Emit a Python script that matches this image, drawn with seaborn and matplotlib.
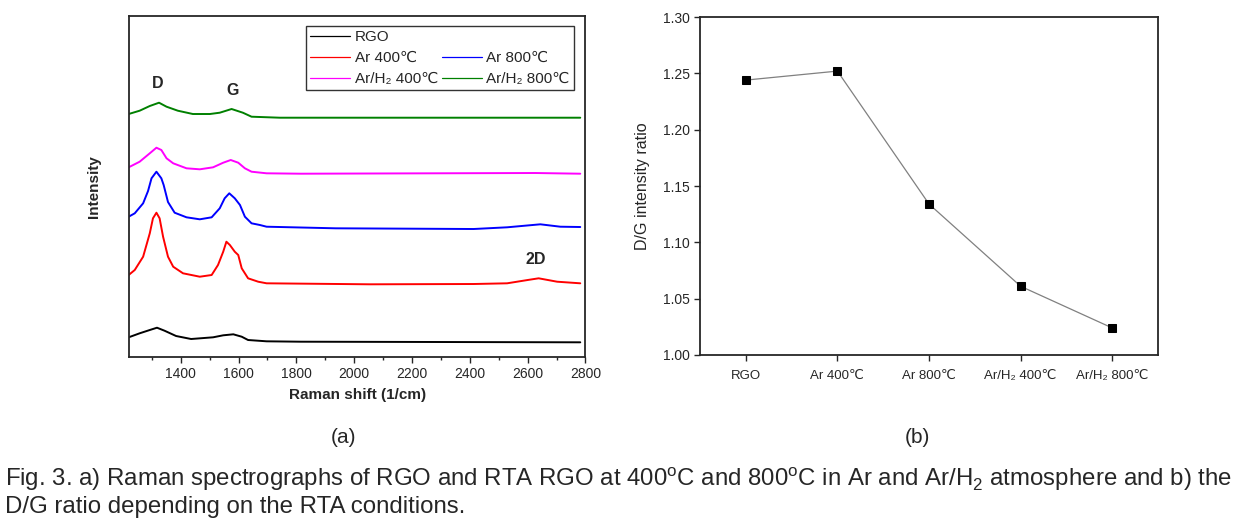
import numpy as np
import pandas as pd
import seaborn as sns
import matplotlib.pyplot as plt
from matplotlib.lines import Line2D
from matplotlib.ticker import MultipleLocator

# spectra: wavenumber (1/cm) and intensity (a.u., offset stacked)
rgo_x = [1220, 1258, 1293, 1318, 1344, 1384, 1436, 1512, 1547, 1582, 1611, 1633, 1697,
         1816, 2782]
rgo_y = [19.7, 23.7, 27.0, 29.3, 26.3, 21.0, 18.0, 19.7, 21.7, 22.7, 20.3, 17.0, 15.7,
         15.3, 14.7]

ar400_x = [1220, 1241, 1270, 1293, 1304, 1316, 1327, 1339, 1356, 1374, 1408, 1466, 1507,
           1529, 1547, 1558, 1570, 1587, 1599, 1611, 1633, 1668, 1697, 2055, 2413, 2529,
           2600, 2638, 2702, 2782]
ar400_y = [82.0, 87.0, 100.3, 123.7, 138.7, 144.3, 138.7, 120.3, 100.3, 90.3, 83.7, 80.3, 82.0,
           92.0, 105.3, 115.3, 112.0, 105.3, 102.0, 88.7, 78.7, 75.3, 73.7, 72.7, 73.0, 73.7,
           77.0, 78.7, 75.3, 73.7]

ar800_x = [1220, 1241, 1270, 1287, 1299, 1316, 1333, 1341, 1356, 1379, 1420, 1466, 1507,
           1535, 1552, 1568, 1587, 1605, 1622, 1645, 1674, 1697, 1936, 2413, 2529, 2644,
           2713, 2782]
ar800_y = [140.3, 143.7, 153.7, 166.0, 178.7, 185.3, 178.7, 172.0, 155.0, 144.3, 139.7, 137.7, 139.7,
           148.7, 158.7, 163.7, 158.7, 152.0, 140.3, 133.7, 132.0, 130.3, 128.7, 128.0, 129.7, 132.7,
           130.3, 130.0]

arh400_x = [1220, 1258, 1293, 1316, 1333, 1351, 1374, 1420, 1466, 1512, 1547, 1573, 1599,
            1622, 1645, 1697, 1816, 2627, 2782]
arh400_y = [189.7, 195.3, 203.7, 209.3, 207.0, 198.7, 193.7, 188.7, 187.7, 189.7, 194.3, 197.0, 194.3,
            188.7, 185.3, 183.7, 183.3, 184.0, 183.3]

arh800_x = [1220, 1258, 1293, 1325, 1351, 1390, 1442, 1501, 1535, 1576, 1615, 1645, 1743,
            2782]
arh800_y = [243.0, 246.3, 251.0, 254.3, 250.3, 246.3, 243.0, 243.0, 244.3, 248.0, 244.3, 240.3, 239.3,
            239.3]

# panel (b)
conditions = ["RGO", "Ar 400℃", "Ar 800℃", "Ar/H₂ 400℃", "Ar/H₂ 800℃"]
dg_ratio = [1.244, 1.252, 1.134, 1.061, 1.024]

names = ["RGO", "Ar 400℃", "Ar 800℃", "Ar/H₂ 400℃", "Ar/H₂ 800℃"]
colors = ["black", "#ff0000", "#0000ff", "#ff00ff", "#008000"]

frames = []
for name, xs, ys in zip(names, [rgo_x, ar400_x, ar800_x, arh400_x, arh800_x],
                        [rgo_y, ar400_y, ar800_y, arh400_y, arh800_y]):
    frames.append(pd.DataFrame({"shift": xs, "intensity": ys, "sample": name}))
spectra = pd.concat(frames, ignore_index=True)

sns.set_style("ticks")
plt.rcParams["font.family"] = ["Liberation Sans", "DejaVu Sans"]
plt.rcParams["mathtext.fontset"] = "custom"
plt.rcParams["mathtext.rm"] = "Liberation Sans"

fig = plt.figure(figsize=(12.42, 5.30), dpi=100)
ax1 = fig.add_axes([0.1036, 0.3264, 0.3678, 0.6434])
ax2 = fig.add_axes([0.5636, 0.3302, 0.3688, 0.6377])

# (a) Raman spectra
sns.lineplot(data=spectra, x="shift", y="intensity", hue="sample",
             palette=dict(zip(names, colors)), hue_order=names,
             linewidth=1.4, legend=False, ax=ax1, estimator=None, sort=False)
ax1.set_xlim(1220, 2800)
ax1.set_ylim(0, 341)
ax1.set_yticks([])
ax1.set_xticks([1400, 1600, 1800, 2000, 2200, 2400, 2600, 2800])
ax1.xaxis.set_minor_locator(MultipleLocator(100))
ax1.tick_params(axis="x", which="major", direction="out", length=4, width=1,
                labelsize=10, pad=3)
ax1.tick_params(axis="x", which="minor", direction="out", length=2.5, width=1)
for s in ax1.spines.values():
    s.set_linewidth(1.3)
    s.set_visible(True)
ax1.set_xlabel("Raman shift (1/cm)", fontsize=11, fontweight="bold", labelpad=5)
ax1.set_ylabel("Intensity", fontsize=11, fontweight="bold", labelpad=20)
ax1.text(1321, 274, "D", fontsize=11.5, fontweight="bold", ha="center", va="center")
ax1.text(1578, 267, "G", fontsize=11.5, fontweight="bold", ha="center", va="center")
ax1.text(2627, 98, "2D", fontsize=11.5, fontweight="bold", ha="center", va="center")

handles = [Line2D([], [], color=c, lw=0.9) for c in colors]
blank = Line2D([], [], color="none")
order = [handles[0], handles[1], handles[3], blank, handles[2], handles[4]]
labels = [names[0], names[1], names[3], "", names[2], names[4]]
leg = ax1.legend(order, labels, ncol=2, loc="upper right",
                 bbox_to_anchor=(0.975, 0.972), fontsize=11, frameon=True,
                 fancybox=False, edgecolor="black", handlelength=2.6,
                 handletextpad=0.3, columnspacing=0.25, labelspacing=0.45,
                 borderpad=0.3, borderaxespad=0)
leg.get_frame().set_linewidth(1.0)

# (b) D/G ratio
ratio = pd.DataFrame({"condition": conditions, "ratio": dg_ratio})
sns.lineplot(data=ratio, x="condition", y="ratio", color="#808080", linewidth=0.9,
             marker="s", markersize=6, markerfacecolor="black",
             markeredgecolor="black", sort=False, ax=ax2)
ax2.set_xlim(-0.5, 4.5)
ax2.set_ylim(1.00, 1.30)
yt = np.arange(1.00, 1.301, 0.05)
ax2.set_yticks(yt)
ax2.set_yticklabels([f"{v:.2f}" for v in yt])
ax2.tick_params(axis="both", direction="out", length=4, width=1, labelsize=10)
ax2.tick_params(axis="x", labelsize=9.5, pad=7)
for s in ax2.spines.values():
    s.set_linewidth(1.3)
    s.set_visible(True)
ax2.set_xlabel("")
ax2.set_ylabel("D/G intensity ratio", fontsize=11.5, labelpad=9)

fig.text(0.2763, 0.175, "(a)", fontsize=15, ha="center", va="center")
fig.text(0.7385, 0.175, "(b)", fontsize=15, ha="center", va="center")
fig.text(0.004, 0.083,
         "Fig. 3. a) Raman spectrographs of RGO and RTA RGO at 400$^{\\mathrm{o}}$C and "
         "800$^{\\mathrm{o}}$C in Ar and Ar/H$_2$ atmosphere and b) the",
         fontsize=17.3, ha="left", va="baseline")
fig.text(0.004, 0.032, "D/G ratio depending on the RTA conditions.",
         fontsize=17.3, ha="left", va="baseline")

fig.savefig("out.png", dpi=100)
